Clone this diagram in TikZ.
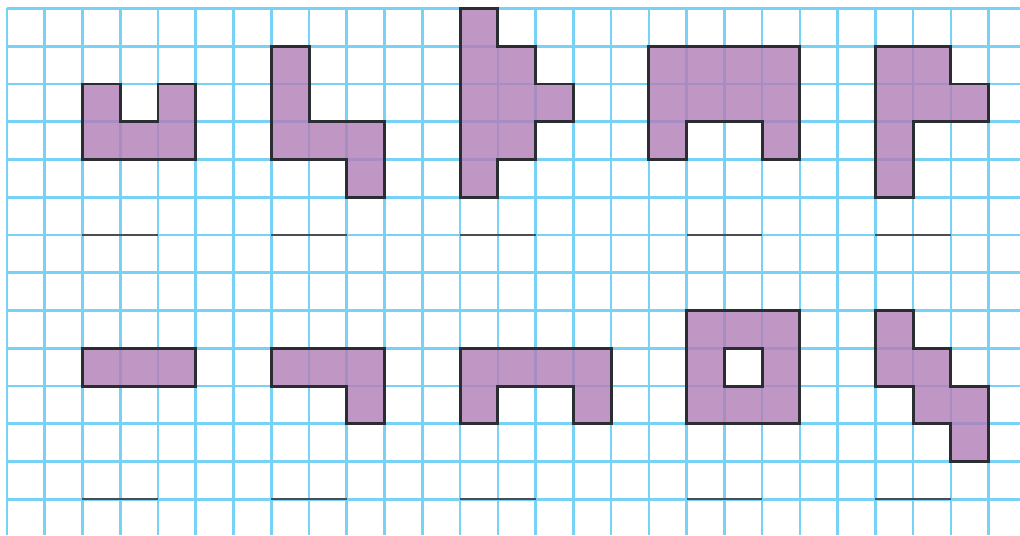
\documentclass[tikz,border=0pt]{standalone}
\usepackage{xcolor}
\usepackage{tikz}
\definecolor{gridblue}{HTML}{78D2F5}
\definecolor{piecefill}{HTML}{B27FB8}
\definecolor{edge}{HTML}{2A2E33}
\definecolor{blankline}{HTML}{4A4E52}

\begin{document}
\begin{tikzpicture}[yscale=-1,
  gridline/.style={draw=gridblue, line width=2pt},
  piece/.style={fill=piecefill, fill opacity=0.82, draw=edge, line width=2.2pt, line join=miter},
  blank/.style={draw=blankline, line width=1.3pt}]
\useasboundingbox (-0.185,-0.225) rectangle (26.83,13.95);
\fill[white] (-0.185,-0.225) rectangle (26.83,13.95);
% squared paper
\draw[gridline] (0,0) grid (26.83,13.95);
% top row of figures
\draw[piece] (2,2) -- (3,2) -- (3,3) -- (4,3) -- (4,2) -- (5,2) -- (5,4) -- (2,4) -- cycle;
\draw[piece] (7,1) -- (8,1) -- (8,3) -- (10,3) -- (10,5) -- (9,5) -- (9,4) -- (7,4) -- cycle;
\draw[piece] (12,0) -- (13,0) -- (13,1) -- (14,1) -- (14,2) -- (15,2) -- (15,3) -- (14,3)
  -- (14,4) -- (13,4) -- (13,5) -- (12,5) -- cycle;
\draw[piece] (17,1) -- (21,1) -- (21,4) -- (20,4) -- (20,3) -- (18,3) -- (18,4) -- (17,4) -- cycle;
\draw[piece] (23,1) -- (25,1) -- (25,2) -- (26,2) -- (26,3) -- (24,3) -- (24,5) -- (23,5) -- cycle;
% bottom row of figures
\draw[piece] (2,9) rectangle (5,10);
\draw[piece] (7,9) -- (10,9) -- (10,11) -- (9,11) -- (9,10) -- (7,10) -- cycle;
\draw[piece] (12,9) -- (16,9) -- (16,11) -- (15,11) -- (15,10) -- (13,10) -- (13,11) -- (12,11) -- cycle;
\draw[piece, even odd rule] (18,8) rectangle (21,11) (19,9) rectangle (20,10);
\draw[piece] (23,8) -- (24,8) -- (24,9) -- (25,9) -- (25,10) -- (26,10) -- (26,12) -- (25,12)
  -- (25,11) -- (24,11) -- (24,10) -- (23,10) -- cycle;
% answer lines
\foreach \x in {2,7,12,18,23}{
  \draw[blank] (\x,6) -- ++(2,0);
  \draw[blank] (\x,13) -- ++(2,0);
}
\end{tikzpicture}
\end{document}
